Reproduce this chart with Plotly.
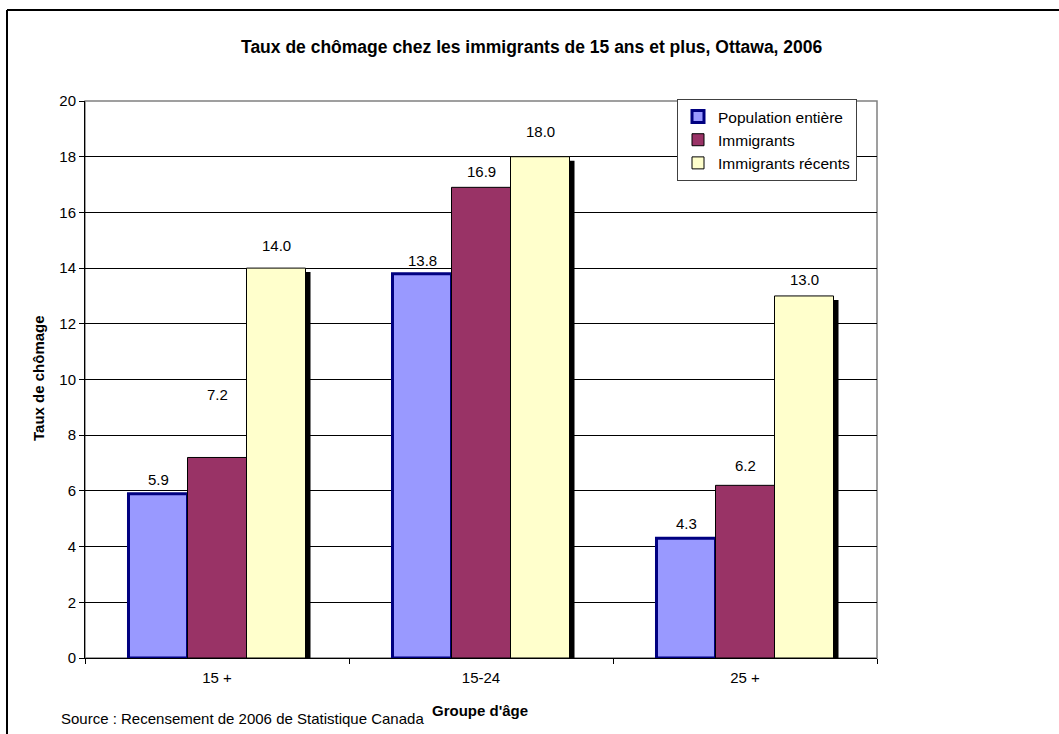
import plotly.graph_objects as go

# Age groups and unemployment rates (%)
age_groups = ["15 +", "15-24", "25 +"]
series_names = ["Population entière", "Immigrants", "Immigrants récents"]
pop_entiere = [5.9, 13.8, 4.3]
immigrants = [7.2, 16.9, 6.2]
immigrants_recents = [14.0, 18.0, 13.0]
y_ticks = [0, 2, 4, 6, 8, 10, 12, 14, 16, 18, 20]

# Styling
fills = ["#9999FF", "#993366", "#FFFFCC"]
edges = ["#000080", "#000000", "#000000"]
edge_w = [3, 1, 1]
FONT = "Liberation Sans, Arial, sans-serif"
TXT = 15

W, H = 1059, 734
L, R, T, B = 85, 877, 101, 658          # plot area in pixels
PW, PH = R - L, B - T


def px_x(x):
    return (x - L) / PW


def px_y(y):
    return (B - y) / PH


bar_w = 0.2235
offsets = [-1.5 * bar_w, -0.5 * bar_w, 0.5 * bar_w]
series = [pop_entiere, immigrants, immigrants_recents]

# distance (px) from bar top to the centre of its value label, per series / group
label_gap_px = [[14, 13, 15], [63, 16, 20], [23, 25, 16]]

fig = go.Figure()

# drop shadow behind the right-most bars
shadow_dx = 5 / 264
shadow_dy = 4 * 20 / PH
fig.add_trace(go.Bar(
    x=age_groups, y=immigrants_recents, base=[-shadow_dy] * 3,
    width=bar_w, offset=offsets[2] + shadow_dx,
    marker=dict(color="#000000", line=dict(width=0)),
    showlegend=False, hoverinfo="skip",
))

for name, vals, off, fc, ec, lw in zip(series_names, series, offsets, fills, edges, edge_w):
    fig.add_trace(go.Bar(
        name=name, x=age_groups, y=vals, width=bar_w, offset=off,
        marker=dict(color=fc, line=dict(color=ec, width=lw)),
    ))

annotations = []
for s, (vals, off) in enumerate(zip(series, offsets)):
    for g, v in enumerate(vals):
        annotations.append(dict(
            x=g + off + bar_w / 2, y=v, xref="x", yref="y",
            text=f"{v:.1f}", showarrow=False, xanchor="center", yanchor="middle",
            yshift=label_gap_px[s][g], font=dict(family=FONT, size=TXT, color="#000"),
        ))


def label(text, x, y, size, xanchor="center", angle=0):
    return dict(text=text, x=px_x(x), y=px_y(y), xref="paper", yref="paper",
                xanchor=xanchor, yanchor="middle", textangle=angle, showarrow=False,
                font=dict(family=FONT, size=size, color="#000"))


annotations += [
    label("<b>Taux de chômage</b>", 38, 378, 15, angle=-90),
    label("<b>Groupe d'âge</b>", 480, 710, 15),
    label("Source : Recensement de 2006 de Statistique Canada", 59, 718, TXT, xanchor="left"),
    label("<b>Taux de chômage chez les immigrants de 15 ans et plus, Ottawa, 2006</b>",
          532, 47, 17.5),
]

shapes = [
    # plot-area frame (top and right)
    dict(type="rect", xref="paper", yref="paper", x0=0, x1=1, y0=0, y1=1,
         line=dict(color="#808080", width=1.5), layer="below"),
    # outer chart frame
    dict(type="line", xref="paper", yref="paper", x0=px_x(7), x1=px_x(7),
         y0=px_y(740), y1=px_y(10), line=dict(color="#000", width=2)),
    dict(type="line", xref="paper", yref="paper", x0=px_x(7), x1=px_x(1070),
         y0=px_y(10), y1=px_y(10), line=dict(color="#000", width=2)),
]

fig.update_layout(
    width=W, height=H,
    margin=dict(l=L, r=W - R, t=T, b=H - B, pad=0),
    paper_bgcolor="#FFFFFF", plot_bgcolor="#FFFFFF",
    barmode="overlay",
    font=dict(family=FONT, size=TXT, color="#000"),
    showlegend=True,
    legend=dict(
        x=px_x(857), y=px_y(99), xanchor="right", yanchor="top",
        bgcolor="#FFFFFF", bordercolor="#404040", borderwidth=1,
        font=dict(family=FONT, size=15.5, color="#000"),
        itemwidth=30, tracegroupgap=0,
    ),
    annotations=annotations,
    shapes=shapes,
    xaxis=dict(
        type="category", range=[-0.5, 2.5], showline=True, linecolor="#000", linewidth=1,
        ticks="outside", tickson="boundaries", ticklen=5, tickcolor="#000",
        showgrid=False, zeroline=False, tickfont=dict(size=TXT), ticklabelstandoff=6,
    ),
    yaxis=dict(
        range=[0, 20], tickvals=y_ticks, showline=True, linecolor="#000", linewidth=1,
        ticks="outside", ticklen=5, tickcolor="#000",
        showgrid=True, gridcolor="#000", gridwidth=1, zeroline=False,
        tickfont=dict(size=TXT),
    ),
)

fig.write_html("out.html")
